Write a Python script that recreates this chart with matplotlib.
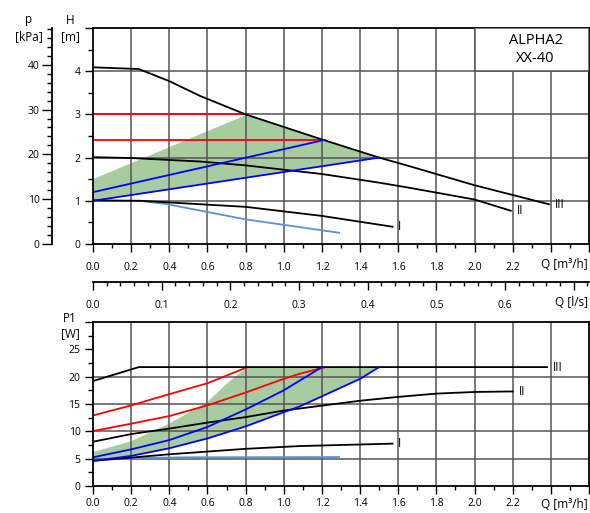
import matplotlib
matplotlib.use('Agg')
import matplotlib.pyplot as plt
from matplotlib.patches import Rectangle
from matplotlib.ticker import MultipleLocator, FuncFormatter

plt.rcParams['font.family'] = ['Open Sans', 'DejaVu Sans']

# head curves, H [m] over Q [m3/h]
q_h3 = [0, 0.24, 0.4, 0.56, 0.8, 1.0, 1.2, 1.5, 1.66, 2.0, 2.39]
h_h3 = [4.09, 4.05, 3.77, 3.43, 3.0, 2.71, 2.42, 2.0, 1.8, 1.36, 0.92]
q_h2 = [0, 0.2, 0.56, 0.8, 1.2, 1.5, 1.66, 2.0, 2.19]
h_h2 = [2.01, 1.99, 1.91, 1.82, 1.62, 1.42, 1.30, 1.03, 0.77]
q_h1 = [0, 0.25, 0.8, 1.2, 1.57]
h_h1 = [1.01, 1.0, 0.86, 0.65, 0.40]
q_hmin = [0, 0.25, 0.39, 0.8, 1.29]
h_hmin = [1.0, 1.0, 0.92, 0.57, 0.26]
q_hpp_hi = [0, 1.215]
h_hpp_hi = [1.2, 2.41]
q_hpp_lo = [0, 1.5]
h_hpp_lo = [1.0, 2.0]
q_hcp_hi = [0, 0.81]
h_hcp_hi = [3.0, 3.0]
q_hcp_lo = [0, 1.215]
h_hcp_lo = [2.4, 2.4]
# upper left edge of the autoadapt area
q_hband = [0, 0.81]
h_hband = [1.5, 3.0]

# power curves, P1 [W] over Q [m3/h]
q_p3 = [0, 0.24, 2.38]
p_p3 = [19.2, 21.75, 21.75]
q_p2 = [0, 0.2, 0.4, 0.6, 0.8, 1.0, 1.2, 1.4, 1.6, 1.8, 2.0, 2.2]
p_p2 = [8.1, 9.5, 10.5, 11.6, 12.6, 13.8, 14.7, 15.6, 16.3, 16.9, 17.2, 17.3]
q_p1 = [0, 0.2, 0.4, 0.8, 1.08, 1.57]
p_p1 = [4.6, 5.2, 5.8, 6.8, 7.3, 7.75]
q_pmin = [0, 0.15, 0.5, 1.29]
p_pmin = [4.7, 5.1, 5.25, 5.3]
q_ppp_hi = [0, 0.2, 0.4, 0.6, 0.8, 1.0, 1.08, 1.2]
p_ppp_hi = [5.25, 6.7, 8.4, 10.8, 14.0, 17.5, 19.2, 21.75]
q_ppp_lo = [0, 0.2, 0.4, 0.6, 0.8, 1.0, 1.08, 1.2, 1.4, 1.5]
p_ppp_lo = [4.6, 5.5, 6.9, 8.7, 10.9, 13.5, 14.5, 16.4, 19.6, 21.75]
q_pcp_hi = [0, 0.2, 0.4, 0.6, 0.81]
p_pcp_hi = [12.9, 14.75, 16.8, 18.8, 21.75]
q_pcp_lo = [0, 0.2, 0.4, 0.6, 0.8, 1.0, 1.08, 1.22]
p_pcp_lo = [10.05, 11.4, 12.8, 14.75, 17.1, 19.6, 20.5, 21.75]
q_pband = [0, 0.2, 0.4, 0.6, 0.72, 0.81]
p_pband = [6.2, 8.2, 11.4, 15.4, 19.3, 21.75]

curve_names = ['I', 'II', 'III']
KPA_PER_M = 9.64
Q_MAX = 2.6

GRID = '#555555'
GREEN = '#a9cba0'
RED = '#ff0000'
BLUE = '#0000ff'
LBLUE = '#5f8fdc'
TICK_FS = 7.5
LABEL_FS = 8.5

W, H = 590, 513


def fx(px):
    return px / W


def fy(py):
    return 1 - py / H


def q_fmt(v, pos):
    return '%.1f' % v if v < 2.3 else ''


def style_q_axis(ax, pad):
    ax.set_xlim(0, Q_MAX)
    ax.xaxis.set_major_locator(MultipleLocator(0.2))
    ax.xaxis.set_minor_locator(MultipleLocator(0.1))
    ax.xaxis.set_major_formatter(FuncFormatter(q_fmt))
    ax.tick_params(axis='x', which='major', length=6, width=1, pad=pad, labelsize=TICK_FS)
    ax.tick_params(axis='x', which='minor', length=3, width=1)
    for s in ax.spines.values():
        s.set_linewidth(1.3)
    for x in [0.2 * i for i in range(1, 13)]:
        ax.axvline(x, color=GRID, lw=1.1, zorder=1)


def main():
    fig = plt.figure(figsize=(5.9, 5.13), dpi=100)

    # ---- head chart
    ax = fig.add_axes([fx(93), fy(244), fx(589) - fx(93), fy(28) - fy(244)])
    style_q_axis(ax, 7)
    ax.set_ylim(0, 5)
    ax.yaxis.set_major_locator(MultipleLocator(1))
    ax.yaxis.set_minor_locator(MultipleLocator(0.5))
    ax.yaxis.set_major_formatter(FuncFormatter(lambda v, p: '%d' % v if v < 4.5 else ''))
    ax.tick_params(axis='y', which='major', length=6, width=1, pad=3, labelsize=TICK_FS)
    ax.tick_params(axis='y', which='minor', length=3.5, width=1)
    for y in [1, 2, 3, 4]:
        ax.axhline(y, color=GRID, lw=1.1, zorder=1)

    # green area: edge, then curve III down to lower prop. curve
    band_q = list(q_hband) + [q for q in q_h3 if q_hband[-1] < q < q_hpp_lo[-1]] + q_hpp_lo[::-1]
    band_h = list(h_hband) + [h for q, h in zip(q_h3, h_h3) if q_hband[-1] < q < q_hpp_lo[-1]] + h_hpp_lo[::-1]
    ax.fill(band_q, band_h, color=GREEN, lw=0, zorder=0.5)

    ax.plot(q_hcp_hi, h_hcp_hi, color=RED, lw=1.3, zorder=2)
    ax.plot(q_hcp_lo, h_hcp_lo, color=RED, lw=1.3, zorder=2)
    ax.plot(q_hmin, h_hmin, color=LBLUE, lw=1.3, zorder=2)
    ax.plot(q_h1, h_h1, color='black', lw=1.3, zorder=2)
    ax.plot(q_h2, h_h2, color='black', lw=1.3, zorder=2)
    ax.plot(q_h3, h_h3, color='black', lw=1.3, zorder=2)
    ax.plot(q_hpp_hi, h_hpp_hi, color=BLUE, lw=1.3, zorder=2.5)
    ax.plot(q_hpp_lo, h_hpp_lo, color=BLUE, lw=1.3, zorder=2.5)
    for name, qs, hs in zip(curve_names, [q_h1, q_h2, q_h3], [h_h1, h_h2, h_h3]):
        ax.text(qs[-1] + 0.03, hs[-1], name, fontsize=LABEL_FS, va='center', ha='left')

    ax.add_patch(Rectangle((2.0, 4.0), 0.6, 1.0, facecolor='white', edgecolor=GRID,
                           lw=1.1, zorder=3))
    ax.text(2.32, 4.5, 'ALPHA2\nXX-40', fontsize=10.5, ha='center', va='center',
            linespacing=1.25, zorder=4)

    # pressure scale in kPa
    axp = ax.twinx()
    axp.set_ylim(0, 5 * KPA_PER_M)
    for k in ['top', 'right', 'bottom']:
        axp.spines[k].set_visible(False)
    axp.spines['left'].set_visible(True)
    axp.spines['left'].set_position(('axes', -41 / 496))
    axp.spines['left'].set_linewidth(1.3)
    axp.yaxis.set_ticks_position('left')
    axp.yaxis.set_major_locator(MultipleLocator(10))
    axp.yaxis.set_minor_locator(MultipleLocator(2))
    axp.tick_params(axis='y', which='major', length=7, width=1, pad=2, labelsize=TICK_FS)
    axp.tick_params(axis='y', which='minor', length=3.5, width=1)

    # ---- l/s scale
    axs = fig.add_axes([fx(93), fy(282), fx(589) - fx(93), 0.0001])
    axs.set_xlim(0, Q_MAX / 3.6)
    axs.set_yticks([])
    axs.patch.set_visible(False)
    for k in ['top', 'left', 'right']:
        axs.spines[k].set_visible(False)
    axs.spines['bottom'].set_linewidth(1.3)
    axs.xaxis.set_major_locator(MultipleLocator(0.1))
    axs.xaxis.set_minor_locator(MultipleLocator(0.02))
    axs.xaxis.set_major_formatter(FuncFormatter(lambda v, p: '%.1f' % v if v < 0.65 else ''))
    axs.tick_params(axis='x', which='major', length=6, width=1, pad=7, labelsize=TICK_FS)
    axs.tick_params(axis='x', which='minor', length=3, width=1)

    # ---- power chart
    bx = fig.add_axes([fx(93), fy(486), fx(589) - fx(93), fy(322) - fy(486)])
    style_q_axis(bx, 3)
    bx.set_ylim(0, 30)
    bx.yaxis.set_major_locator(MultipleLocator(5))
    bx.yaxis.set_minor_locator(MultipleLocator(2.5))
    bx.yaxis.set_major_formatter(FuncFormatter(lambda v, p: '%d' % v if v < 27 else ''))
    bx.tick_params(axis='y', which='major', length=6, width=1, pad=3, labelsize=TICK_FS)
    bx.tick_params(axis='y', which='minor', length=3.5, width=1)
    for y in [5, 10, 15, 20]:
        bx.axhline(y, color=GRID, lw=1.1, zorder=1)

    band_q = list(q_pband) + [q_ppp_lo[-1]] + q_ppp_lo[::-1]
    band_p = list(p_pband) + [p_pband[-1]] + p_ppp_lo[::-1]
    bx.fill(band_q, band_p, color=GREEN, lw=0, zorder=0.5)

    bx.plot(q_pcp_hi, p_pcp_hi, color=RED, lw=1.3, zorder=2)
    bx.plot(q_pcp_lo, p_pcp_lo, color=RED, lw=1.3, zorder=2)
    bx.plot(q_pmin, p_pmin, color=LBLUE, lw=1.3, zorder=2)
    bx.plot(q_p1, p_p1, color='black', lw=1.3, zorder=2)
    bx.plot(q_p2, p_p2, color='black', lw=1.3, zorder=2)
    bx.plot(q_p3, p_p3, color='black', lw=1.3, zorder=2)
    bx.plot(q_ppp_hi, p_ppp_hi, color=BLUE, lw=1.3, zorder=2.5)
    bx.plot(q_ppp_lo, p_ppp_lo, color=BLUE, lw=1.3, zorder=2.5)
    for name, qs, ps in zip(curve_names, [q_p1, q_p2, q_p3], [p_p1, p_p2, p_p3]):
        bx.text(qs[-1] + 0.03, ps[-1], name, fontsize=LABEL_FS, va='center', ha='left')

    # ---- axis titles
    fig.text(fx(29), fy(20), 'p', fontsize=LABEL_FS, ha='center', va='center')
    fig.text(fx(29), fy(37), '[kPa]', fontsize=LABEL_FS, ha='center', va='center')
    fig.text(fx(70), fy(20), 'H', fontsize=LABEL_FS, ha='center', va='center')
    fig.text(fx(70), fy(37), '[m]', fontsize=LABEL_FS, ha='center', va='center')
    fig.text(fx(70), fy(318), 'P1', fontsize=LABEL_FS, ha='center', va='center')
    fig.text(fx(70), fy(334), '[W]', fontsize=LABEL_FS, ha='center', va='center')
    fig.text(fx(588), fy(265), 'Q [m\u00b3/h]', fontsize=LABEL_FS, ha='right', va='center')
    fig.text(fx(588), fy(303), 'Q [l/s]', fontsize=LABEL_FS, ha='right', va='center')
    fig.text(fx(588), fy(504), 'Q [m\u00b3/h]', fontsize=LABEL_FS, ha='right', va='center')

    fig.savefig('out.png', dpi=100, facecolor='white')


if __name__ == '__main__':
    main()
